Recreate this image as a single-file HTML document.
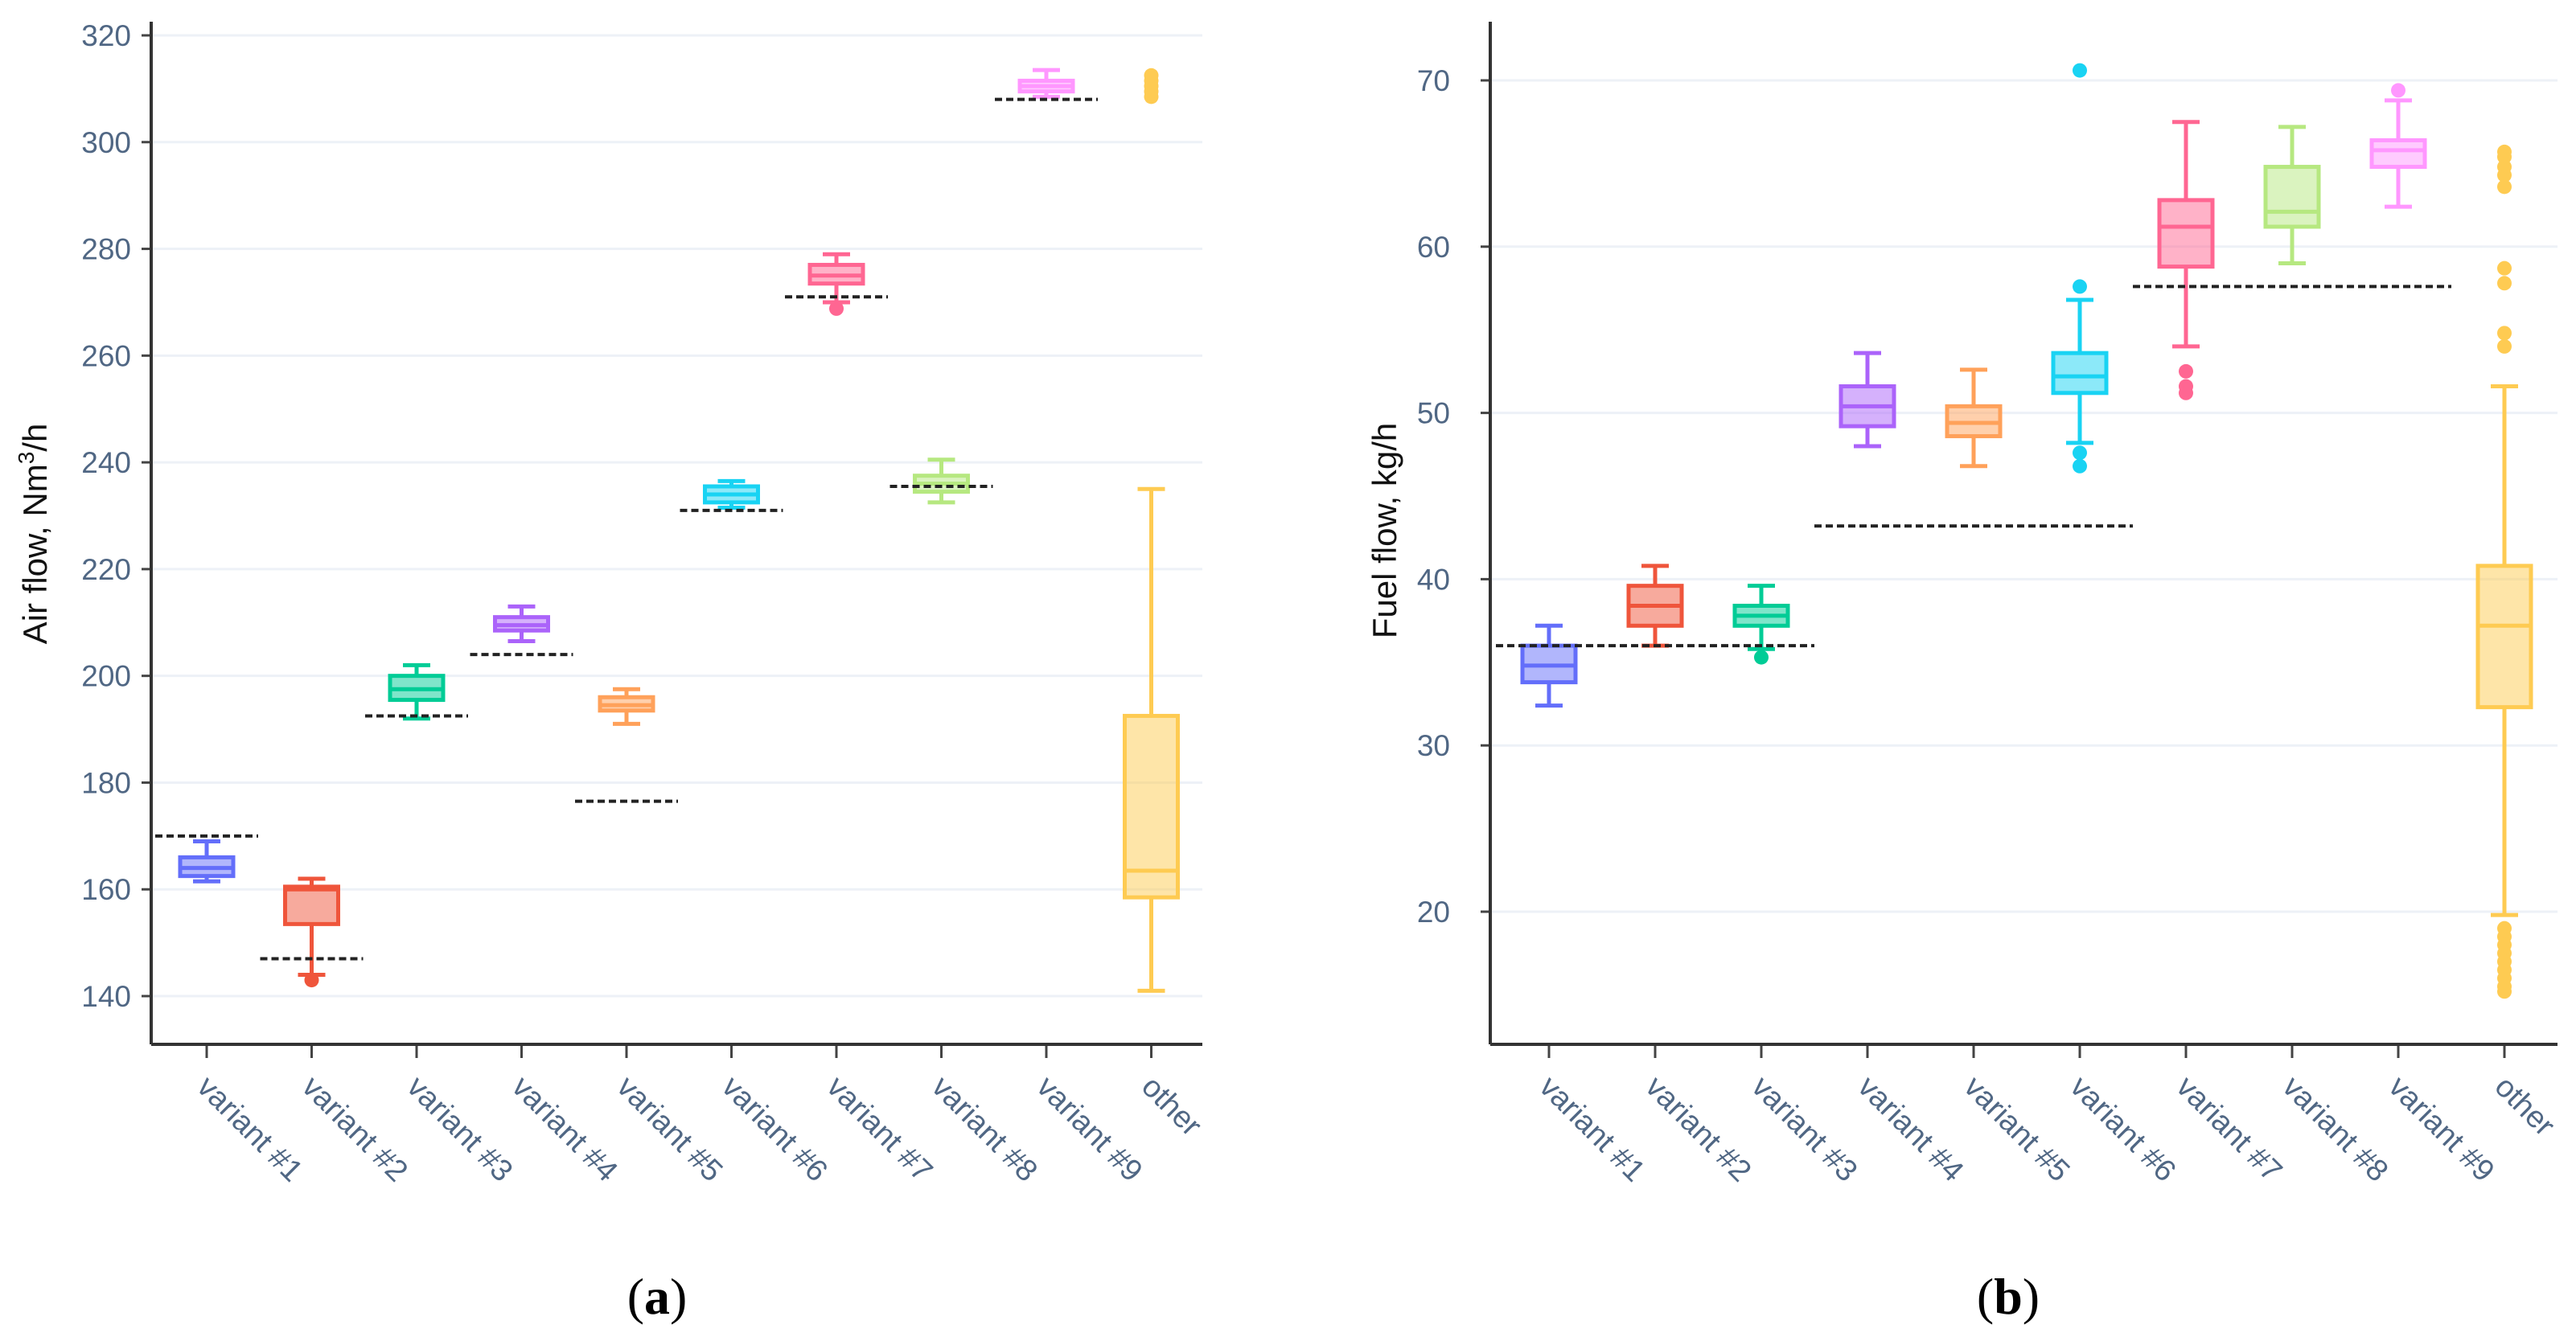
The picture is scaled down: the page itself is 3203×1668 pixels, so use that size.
<!DOCTYPE html>
<html><head><meta charset="utf-8">
<style>
html,body{margin:0;padding:0;background:#fff;}
svg{display:block;font-family:"Liberation Sans",sans-serif;}
</style></head>
<body>
<svg id="chart" width="3203" height="1668" viewBox="0 0 3203 1668" xmlns="http://www.w3.org/2000/svg">
<text x="817" y="1634" font-family="Liberation Serif,serif" font-size="64" text-anchor="middle">(<tspan font-weight="bold">a</tspan>)</text>
<text x="2497" y="1634" font-family="Liberation Serif,serif" font-size="64" text-anchor="middle">(<tspan font-weight="bold">b</tspan>)</text>
</svg>
<script>
const categories = ["variant #1","variant #2","variant #3","variant #4","variant #5","variant #6","variant #7","variant #8","variant #9","other"];
const colors = ["#636efa","#ef553b","#00cc96","#ab63fa","#ffa15a","#19d3f3","#ff6692","#b6e880","#ff97ff","#fecb52"];
// Air flow (panel a)
const airQ1 = [162.5,153.5,195.5,208.5,193.5,232.5,273.5,234.5,309.5,158.5];
const airMed = [164,160,197.5,209.5,194.5,234,275,236,310.5,163.5];
const airQ3 = [166,160.5,200,211,196,235.5,277,237.5,311.5,192.5];
const airLo = [161.5,144,192,206.5,191,231.5,270,232.5,308.5,141];
const airHi = [169,162,202,213,197.5,236.5,279,240.5,313.5,235];
const airOut = [[],[143],[],[],[],[],[268.8],[],[],[308.5,309.5,310.5,311.5,312.5]];
const airRef = [170,147,192.5,204,176.5,231,271,235.5,308,null];
const airTicks = [140,160,180,200,220,240,260,280,300,320];
// Fuel flow (panel b)
const fuelQ1 = [33.8,37.2,37.2,49.2,48.6,51.2,58.8,61.2,64.8,32.3];
const fuelMed = [34.8,38.4,37.8,50.4,49.4,52.2,61.2,62.1,65.8,37.2];
const fuelQ3 = [36,39.6,38.4,51.6,50.4,53.6,62.8,64.8,66.4,40.8];
const fuelLo = [32.4,36,35.8,48,46.8,48.2,54,59,62.4,19.8];
const fuelHi = [37.2,40.8,39.6,53.6,52.6,56.8,67.5,67.2,68.8,51.6];
const fuelOut = [[],[],[35.3],[],[],[57.6,70.6,47.6,46.8],[52.5,51.6,51.2],[],[69.4],[54,54.8,57.8,58.7,63.6,64.3,64.8,65.4,65.7,19,18.5,18,17.5,17,16.5,16,15.5,15.2]];
const fuelRefVals = [36,43.2,57.6];
const fuelRefStart = [0,3,6];
const fuelRefEnd = [2,5,8];
const fuelTicks = [20,30,40,50,60,70];

const NS="http://www.w3.org/2000/svg";
const svg=document.getElementById('chart');
function mk(tag,attrs,parent){const e=document.createElementNS(NS,tag);for(const k in attrs)e.setAttribute(k,attrs[k]);(parent||svg).appendChild(e);return e;}
function hexA(c,a){const r=parseInt(c.substr(1,2),16),g=parseInt(c.substr(3,2),16),b=parseInt(c.substr(5,2),16);return `rgba(${r},${g},${b},${a})`;}

function panel(cfg){
  const {x0,x1,top,bottom,cat0,catStep,yOf,ticks,tickX,title,titleX,titleY,q1,med,q3,lo,hi,out,name}=cfg;
  const g=mk('g',{});
  
  
  const xOf=i=>cat0+i*catStep;
  ticks.forEach(t=>{
    const y=yOf(t);
    const gl=mk('line',{x1:x0,x2:x1,y1:y,y2:y,stroke:'#edf1f7','stroke-width':3},g);
    
    
    mk('line',{x1:x0-12,x2:x0,y1:y,y2:y,stroke:'#444','stroke-width':3},g);
    const tl=mk('text',{x:tickX,y:y+13,'font-size':37,fill:'#506784','text-anchor':'end'},g);
    tl.textContent=t;
    
    
  });
  const tt=mk('text',{x:titleX,y:titleY,'font-size':42,fill:'#111','text-anchor':'middle',transform:`rotate(-90 ${titleX} ${titleY})`},g);
  tt.innerHTML=title;
  
  
  categories.forEach((c,i)=>{
    const x=xOf(i), col=colors[i], w=33;
    mk('line',{x1:x,x2:x,y1:bottom,y2:bottom+17,stroke:'#444','stroke-width':3},g);
    const lx=x-14, ly=bottom+55;
    const lab=mk('text',{x:lx,y:ly,'font-size':38,fill:'#506784',transform:`rotate(45 ${lx} ${ly})`},g);
    lab.textContent=c;
    
    
    const bg=mk('g',{},g);
    
    
    mk('line',{x1:x,x2:x,y1:yOf(hi[i]),y2:yOf(q3[i]),stroke:col,'stroke-width':5},bg);
    mk('line',{x1:x,x2:x,y1:yOf(q1[i]),y2:yOf(lo[i]),stroke:col,'stroke-width':5},bg);
    mk('line',{x1:x-17,x2:x+17,y1:yOf(hi[i]),y2:yOf(hi[i]),stroke:col,'stroke-width':5},bg);
    mk('line',{x1:x-17,x2:x+17,y1:yOf(lo[i]),y2:yOf(lo[i]),stroke:col,'stroke-width':5},bg);
    mk('rect',{x:x-w,y:yOf(q3[i]),width:2*w,height:Math.max(2,yOf(q1[i])-yOf(q3[i])),fill:hexA(col,0.5),stroke:col,'stroke-width':5},bg);
    mk('line',{x1:x-w,x2:x+w,y1:yOf(med[i]),y2:yOf(med[i]),stroke:col,'stroke-width':5},bg);
    out[i].forEach(v=>{
      const p=mk('circle',{cx:x,cy:yOf(v),r:9,fill:col},bg);
      
      
    });
  });
  mk('line',{x1:x0,x2:x0,y1:top,y2:bottom,stroke:'#333','stroke-width':4},g);
  mk('line',{x1:x0,x2:x1,y1:bottom,y2:bottom,stroke:'#333','stroke-width':4},g);
  return {g,xOf};
}

// Panel a
const yA=v=>44+(320-v)*(1195/180);
const pa=panel({x0:188,x1:1495,top:27,bottom:1299,cat0:257,catStep:130.5,yOf:yA,ticks:airTicks,tickX:163,
  title:'Air flow,  Nm<tspan dy="-16" font-size="28">3</tspan><tspan dy="16">/h</tspan>',titleX:58,titleY:664,
  q1:airQ1,med:airMed,q3:airQ3,lo:airLo,hi:airHi,out:airOut,name:'air-flow'});
airRef.forEach((v,i)=>{
  if(v===null)return;
  const x=pa.xOf(i);
  const l=mk('line',{x1:x-64,x2:x+64,y1:yA(v),y2:yA(v),stroke:'#222','stroke-width':4,'stroke-dasharray':'9 5'},pa.g);
  
  
});

// Panel b
const yB=v=>100+(70-v)*(1034/50);
const pb=panel({x0:1853,x1:3180,top:27,bottom:1299,cat0:1926,catStep:132,yOf:yB,ticks:fuelTicks,tickX:1803,
  title:'Fuel flow, kg/h',titleX:1736,titleY:660,
  q1:fuelQ1,med:fuelMed,q3:fuelQ3,lo:fuelLo,hi:fuelHi,out:fuelOut,name:'fuel-flow'});
fuelRefVals.forEach((v,k)=>{
  const xa=pb.xOf(fuelRefStart[k])-66, xb=pb.xOf(fuelRefEnd[k])+66;
  const l=mk('line',{x1:xa,x2:xb,y1:yB(v),y2:yB(v),stroke:'#222','stroke-width':4,'stroke-dasharray':'9 5'},pb.g);
  
  
});
</script>
</body></html>
